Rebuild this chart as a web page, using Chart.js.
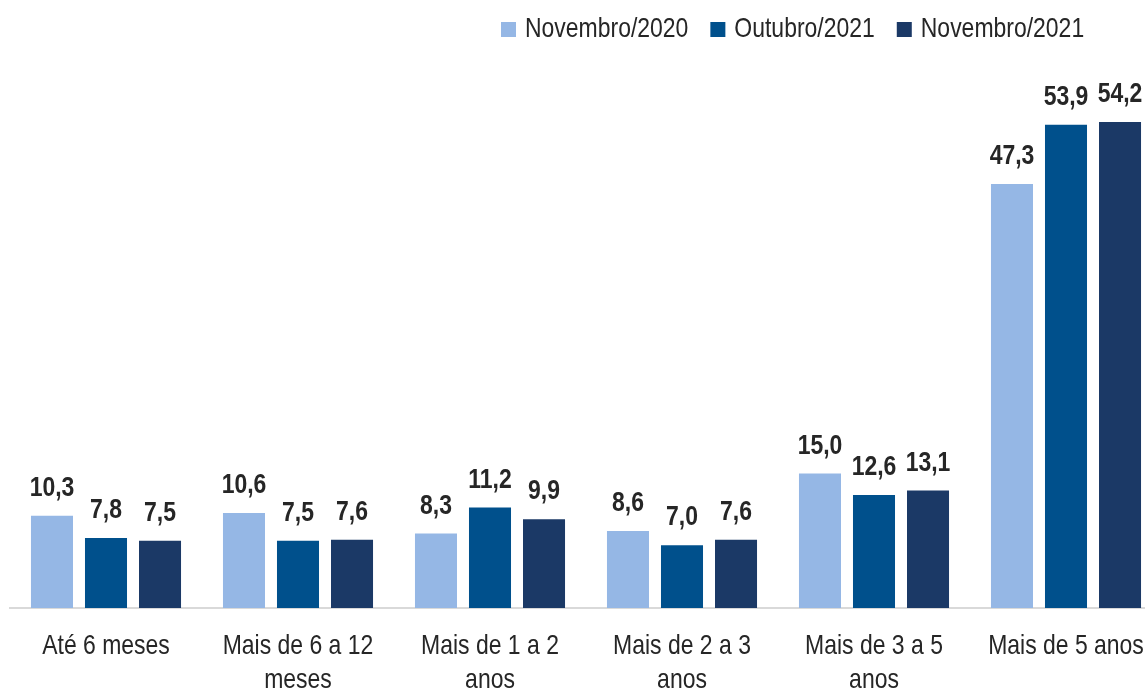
<!DOCTYPE html>
<html><head><meta charset="utf-8">
<script src="https://cdn.jsdelivr.net/npm/chart.js@4.4.1/dist/chart.umd.min.js"></script>
<style>
html,body{margin:0;padding:0;background:#fff;overflow:hidden;width:1145px;height:691px}
#wrap{position:absolute;left:0;top:0;width:1162px;height:691px}
</style></head><body>
<div id="wrap"><canvas id="c" width="1162" height="691"></canvas></div>
<script>
const categories = [["Até 6 meses"], ["Mais de 6 a 12", "meses"], ["Mais de 1 a 2", "anos"], ["Mais de 2 a 3", "anos"], ["Mais de 3 a 5", "anos"], ["Mais de 5 anos"]];
const seriesNames = ["Novembro/2020", "Outubro/2021", "Novembro/2021"];
const nov2020 = [10.3, 10.6, 8.3, 8.6, 15.0, 47.3];
const out2021 = [7.8, 7.5, 11.2, 7.0, 12.6, 53.9];
const nov2021 = [7.5, 7.6, 9.9, 7.6, 13.1, 54.2];
const colors = ['#95B7E5', '#00508C', '#1B3966'];
const series = [nov2020, out2021, nov2021];

const SQUEEZE = 0.82; // emulate a narrow typeface
const textColor = '#262626';

function squeezedText(ctx, txt, x, y, align) {
  ctx.save();
  ctx.translate(x, y);
  ctx.scale(SQUEEZE, 1);
  ctx.textAlign = align;
  ctx.fillText(txt, 0, 0);
  ctx.restore();
}

const valueLabels = {
  id: 'valueLabels',
  afterDatasetsDraw(chart) {
    const ctx = chart.ctx;
    ctx.save();
    ctx.font = "bold 28px 'Liberation Sans', Arial, sans-serif";
    ctx.fillStyle = textColor;
    ctx.textBaseline = 'alphabetic';
    chart.data.datasets.forEach((ds, i) => {
      chart.getDatasetMeta(i).data.forEach((bar, j) => {
        squeezedText(ctx, ds.data[j].toFixed(1).replace('.', ','), bar.x, bar.y - 20, 'center');
      });
    });
    ctx.restore();
  }
};

const categoryLabels = {
  id: 'categoryLabels',
  afterDraw(chart) {
    const ctx = chart.ctx, xs = chart.scales.x, base = chart.chartArea.bottom;
    ctx.save();
    ctx.font = "28px 'Liberation Sans', Arial, sans-serif";
    ctx.fillStyle = textColor;
    ctx.textBaseline = 'alphabetic';
    categories.forEach((lines, i) => {
      const x = xs.getPixelForValue(i);
      lines.forEach((ln, k) => squeezedText(ctx, ln, x, base + 46 + k * 34, 'center'));
    });
    ctx.restore();
  }
};

const legendBar = {
  id: 'legendBar',
  afterDraw(chart) {
    const ctx = chart.ctx;
    ctx.save();
    ctx.font = "28px 'Liberation Sans', Arial, sans-serif";
    ctx.textBaseline = 'alphabetic';
    let x = 501;
    chart.data.datasets.forEach((ds) => {
      ctx.fillStyle = ds.backgroundColor;
      ctx.fillRect(x, 22, 15, 15);
      x += 15 + 9;
      ctx.fillStyle = textColor;
      squeezedText(ctx, ds.label, x, 37, 'left');
      x += ctx.measureText(ds.label).width * SQUEEZE + 22;
    });
    ctx.restore();
  }
};

new Chart(document.getElementById('c'), {
  type: 'bar',
  data: {
    labels: categories,
    datasets: series.map((d, i) => ({
      label: seriesNames[i], data: d, backgroundColor: colors[i],
      barPercentage: 0.778, categoryPercentage: 0.844
    }))
  },
  options: {
    responsive: false,
    animation: false,
    layout: { padding: { left: 10, right: 0, top: 70, bottom: 75 } },
    plugins: { legend: { display: false }, tooltip: { enabled: false } },
    scales: {
      x: {
        grid: { display: false },
        border: { display: true, color: '#D9D9D9', width: 2 },
        ticks: { display: false }
      },
      y: { display: false, min: 0, max: 60 }
    }
  },
  plugins: [valueLabels, categoryLabels, legendBar]
});
</script>
</body></html>
